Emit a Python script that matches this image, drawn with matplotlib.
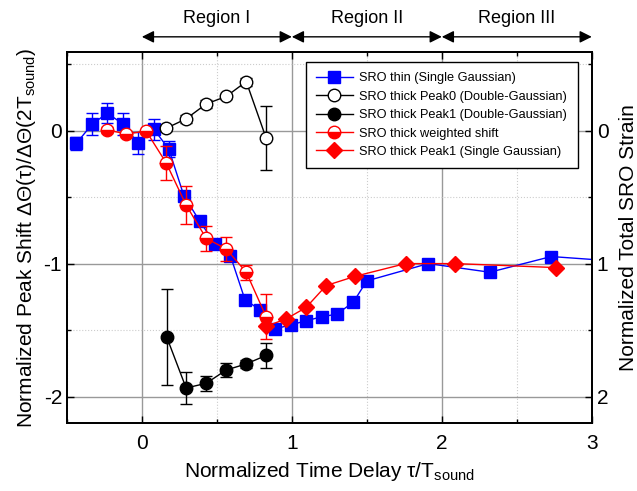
import matplotlib
matplotlib.use("Agg")
import matplotlib.pyplot as plt
import matplotlib.transforms as mtransforms
from matplotlib.ticker import MultipleLocator
from matplotlib.lines import Line2D

plt.rcParams['font.family'] = ['Liberation Sans', 'DejaVu Sans']
plt.rcParams['mathtext.fontset'] = 'custom'
plt.rcParams['mathtext.rm'] = 'Liberation Sans'
plt.rcParams['mathtext.it'] = 'Liberation Sans:italic'
plt.rcParams['mathtext.sf'] = 'Liberation Sans'
plt.rcParams['axes.unicode_minus'] = False

# ---- data ----
thin_x = [-0.436, -0.33, -0.23, -0.127, -0.027, 0.08, 0.18, 0.28, 0.385, 0.487, 0.59,
          0.687, 0.79, 0.89, 0.995, 1.095, 1.198, 1.30, 1.41, 1.50, 1.91, 2.32, 2.73, 3.14]
thin_y = [-0.095, 0.05, 0.13, 0.05, -0.093, 0.01, -0.14, -0.49, -0.68, -0.85, -0.94,
          -1.27, -1.35, -1.49, -1.46, -1.43, -1.40, -1.38, -1.29, -1.13, -1.0, -1.065, -0.947, -0.98]
thin_err = [0.05, 0.083, 0.075, 0.083, 0.08, 0.08, 0.06, 0, 0, 0, 0,
            0, 0, 0, 0, 0, 0, 0, 0, 0, 0, 0, 0, 0]

p0_x = [0.162, 0.295, 0.429, 0.562, 0.696, 0.829]
p0_y = [0.017, 0.088, 0.20, 0.256, 0.368, -0.058]
p0_err = [0.02, 0.03, 0.03, 0.02, 0.03, 0.24]

p1_x = [0.165, 0.295, 0.429, 0.562, 0.696, 0.829]
p1_y = [-1.55, -1.935, -1.90, -1.80, -1.754, -1.69]
p1_err = [0.36, 0.117, 0.056, 0.05, 0.03, 0.094]

w_x = [-0.235, -0.105, 0.029, 0.162, 0.295, 0.429, 0.562, 0.696, 0.829]
w_y = [0.005, -0.025, -0.005, -0.243, -0.56, -0.81, -0.89, -1.065, -1.40]
w_err = [0.02, 0.02, 0.02, 0.13, 0.14, 0.095, 0.09, 0.056, 0.17]

sg_x = [0.831, 0.962, 1.095, 1.229, 1.424, 1.758, 2.09, 2.76]
sg_y = [-1.47, -1.416, -1.33, -1.165, -1.095, -1.0, -1.0, -1.03]

labels = ['SRO thin (Single Gaussian)', 'SRO thick Peak0 (Double-Gaussian)',
          'SRO thick Peak1 (Double-Gaussian)', 'SRO thick weighted shift',
          'SRO thick Peak1 (Single Gaussian)']
regions = ["Region I", "Region II", "Region III"]
region_bounds = [0, 1, 2, 3]

fig = plt.figure(figsize=(6.37, 4.91), dpi=100)
ax = fig.add_axes([0.105, 0.138, 0.824, 0.756])

ms = 9
cap = 4
ax.errorbar(thin_x, thin_y, yerr=thin_err, color='blue', marker='s', ms=ms, lw=1,
            capsize=cap, elinewidth=1, zorder=3)
ax.errorbar(p0_x, p0_y, yerr=p0_err, color='black', marker='o', ms=ms, lw=1,
            mfc='white', mec='black', capsize=cap, elinewidth=1, zorder=4)
ax.errorbar(p1_x, p1_y, yerr=p1_err, color='black', marker='o', ms=ms, lw=1,
            mfc='black', capsize=cap, elinewidth=1, zorder=4)
ax.errorbar(w_x, w_y, yerr=w_err, color='red', marker='o', ms=ms, lw=1,
            mfc='red', mec='red', fillstyle='bottom', markerfacecoloralt='white',
            capsize=cap, elinewidth=1, zorder=5)
ax.plot(sg_x, sg_y, color='red', marker='D', ms=8.5, lw=1, zorder=5)

ax.set_xlim(-0.5, 3)
ax.set_ylim(-2.2, 0.59)
ax.xaxis.set_major_locator(MultipleLocator(1))
ax.xaxis.set_minor_locator(MultipleLocator(0.5))
ax.yaxis.set_major_locator(MultipleLocator(1))
ax.yaxis.set_minor_locator(MultipleLocator(0.5))
ax.grid(which='major', color='#999999', lw=1, ls='-', zorder=0)
ax.grid(which='minor', color='#cccccc', lw=0.8, ls=':', zorder=0)
ax.set_axisbelow(True)
ax.tick_params(which='both', direction='in', top=True, labelsize=15, width=1)
ax.tick_params(which='major', length=5)
ax.tick_params(which='minor', length=3)
ax.tick_params(axis='x', pad=8)
for s in ax.spines.values():
    s.set_linewidth(1.3)

ax.set_xlabel('Normalized Time Delay τ/T$_{\\mathrm{sound}}$', fontsize=15, labelpad=5)
ax.set_ylabel('Normalized Peak Shift ΔΘ(τ)/ΔΘ(2T$_{\\mathrm{sound}}$)',
              fontsize=15, labelpad=4)

ax2 = ax.twinx()
ax2.set_ylim(-ax.get_ylim()[0], -ax.get_ylim()[1])
ax2.yaxis.set_major_locator(MultipleLocator(1))
ax2.yaxis.set_minor_locator(MultipleLocator(0.5))
ax2.tick_params(which='both', direction='in', labelsize=15, width=1)
ax2.tick_params(which='major', length=5)
ax2.tick_params(which='minor', length=3)
ax2.set_ylabel('Normalized Total SRO Strain', fontsize=15, labelpad=8)
for s in ax2.spines.values():
    s.set_linewidth(1.3)

handles = [
    Line2D([], [], color='blue', marker='s', ms=ms, lw=1),
    Line2D([], [], color='black', marker='o', ms=ms, lw=1, mfc='white', mec='black'),
    Line2D([], [], color='black', marker='o', ms=ms, lw=1, mfc='black'),
    Line2D([], [], color='red', marker='o', ms=ms, lw=1, mfc='red', mec='red',
           fillstyle='bottom', markerfacecoloralt='white'),
    Line2D([], [], color='red', marker='D', ms=8.5, lw=1),
]
leg = ax2.legend(handles, labels, loc='upper right', bbox_to_anchor=(0.985, 0.99), fontsize=9.2,
                 frameon=True, fancybox=False, edgecolor='black', framealpha=1,
                 handlelength=2.9, borderpad=0.8, labelspacing=0.5, handletextpad=0.5)
leg.get_frame().set_linewidth(1)
leg.set_zorder(10)

trans = mtransforms.blended_transform_factory(ax.transData, fig.transFigure)
for i, name in enumerate(regions):
    x0, x1 = region_bounds[i], region_bounds[i + 1]
    ax.annotate('', xy=(x1, 0.925), xytext=(x0, 0.925), xycoords=trans, textcoords=trans,
                arrowprops=dict(arrowstyle='<|-|>', color='black', lw=1, mutation_scale=18,
                                shrinkA=0, shrinkB=0),
                annotation_clip=False)
    ax.text((x0 + x1) / 2, 0.963, name, transform=trans, ha='center', va='center', fontsize=13)

fig.savefig('out.png', dpi=100)
